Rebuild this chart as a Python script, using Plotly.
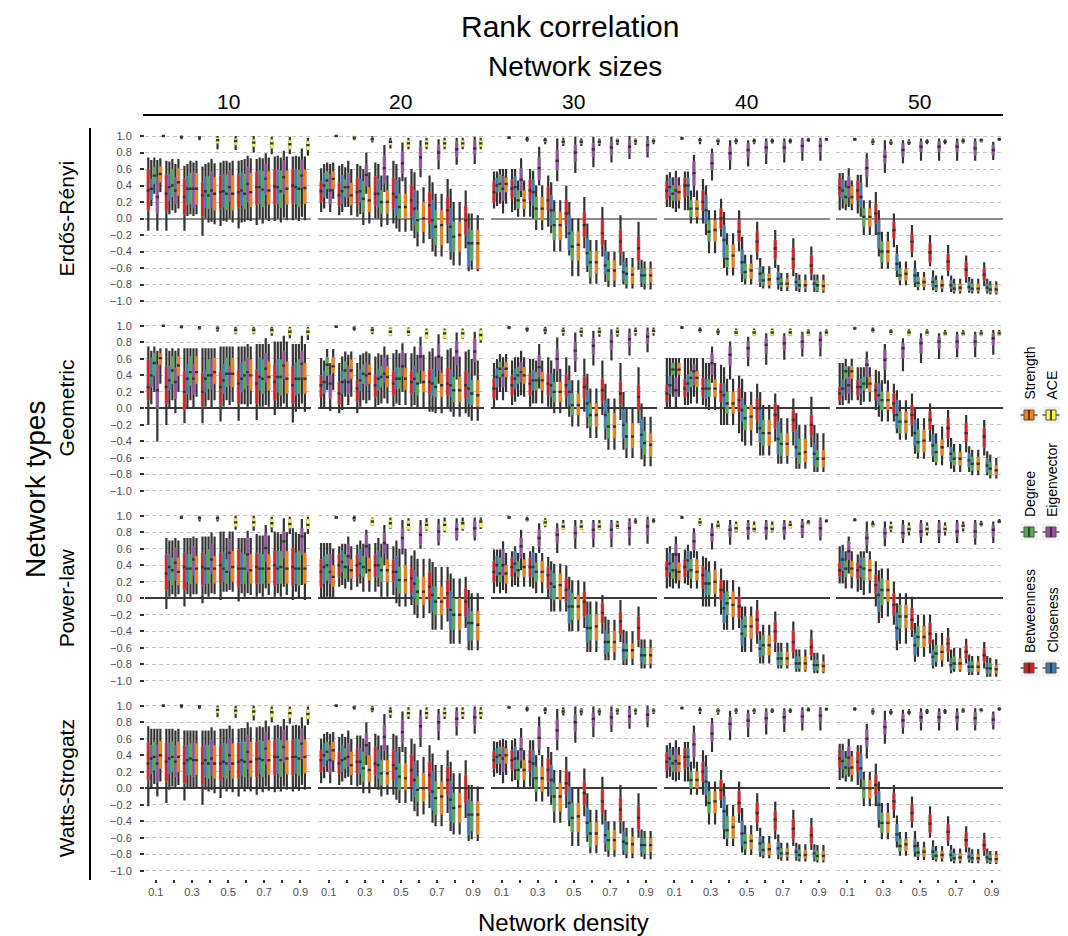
import plotly.graph_objects as go

# ---------------- data ----------------
DENSITY = [0.1, 0.2, 0.3, 0.4, 0.5, 0.6, 0.7, 0.8, 0.9]
DENSITY_LABELS = ["0.1", "", "0.3", "", "0.5", "", "0.7", "", "0.9"]
SIZES = ["10", "20", "30", "40", "50"]
TYPES = ["Erdős-Rényi", "Geometric", "Power-law", "Watts-Strogatz"]
MEASURES = ["Betweenness", "Closeness", "Degree", "Eigenvector", "Strength", "ACE"]
Y_TICKS = [-1.0, -0.8, -0.6, -0.4, -0.2, 0.0, 0.2, 0.4, 0.6, 0.8, 1.0]
Y_LABELS = ["\u22121.0", "\u22120.8", "\u22120.6", "\u22120.4", "\u22120.2", "0.0",
            "0.2", "0.4", "0.6", "0.8", "1.0"]

# each box: (lower whisker, q1, median, q3, upper whisker) in hundredths
# order inside a panel: Betweenness, Closeness, Degree, Eigenvector, Strength, ACE
ER_10 = [
    [(-15,10,34,59,74),(-15,9,30,53,70),(-15,5,26,48,64),(-21,2,28,44,63),(-9,12,32,52,68),(-12,13,32,53,70),(-8,17,38,56,72),(-3,17,39,59,75),(-2,18,40,60,75)],
    [(15,23,36,48,71),(5,22,38,53,69),(3,17,36,51,66),(0,13,33,50,66),(-3,14,33,53,70),(-5,16,34,55,71),(0,18,38,58,74),(0,18,38,59,76),(0,18,38,60,76)],
    [(30,42,52,62,74),(10,26,40,60,72),(5,18,36,55,70),(-5,12,28,51,68),(-4,11,30,53,70),(-4,12,30,54,72),(-6,14,35,57,73),(-5,13,33,58,74),(-3,14,36,59,75)],
    [(-15,7,26,50,71),(7,18,34,50,66),(3,14,36,56,68),(-4,13,34,56,72),(0,21,38,58,68),(-2,20,42,62,76),(0,29,48,66,79),(1,30,50,70,82),(2,38,52,71,85)],
    [(32,44,54,63,73),(12,28,44,61,72),(5,17,36,55,70),(-7,10,30,50,67),(-5,10,30,52,70),(-3,14,32,55,73),(-3,17,34,57,74),(-2,17,36,58,75),(-2,18,37,59,75)],
    [(99,100,100,100,100),(96,98,99,100,100),(95,97,98,99,100),(84,91,95,98,100),(83,89,94,97,100),(80,87,92,96,100),(78,85,91,96,99),(78,84,90,95,99),(76,83,89,94,98)],
]
ER_20 = [
    [(8,20,33,45,61),(4,16,28,43,64),(2,18,32,49,66),(0,16,30,51,68),(-6,12,30,49,70),(-15,2,22,40,60),(-25,-6,16,32,52),(-30,-8,10,26,48),(-36,-20,-2,16,34)],
    [(12,26,40,55,66),(8,18,33,52,66),(5,20,33,48,64),(0,14,30,48,66),(-12,4,26,47,66),(-24,-8,12,34,56),(-40,-24,-2,22,44),(-50,-40,-10,12,36),(-64,-58,-30,-12,6)],
    [(24,36,46,57,68),(14,26,38,47,62),(-8,8,24,45,60),(-10,6,20,34,52),(-16,0,14,30,50),(-34,-16,-2,10,34),(-46,-32,-10,10,30),(-57,-40,-22,-4,20),(-62,-51,-30,-14,6)],
    [(8,18,34,53,66),(14,26,38,55,70),(30,40,53,66,80),(32,43,61,76,89),(45,55,67,81,92),(50,61,74,87,95),(60,71,80,89,96),(65,75,84,93,98),(66,77,85,95,99)],
    [(24,36,48,57,68),(4,16,28,43,60),(-6,8,22,38,56),(-8,6,20,34,52),(-16,0,14,30,50),(-30,-16,0,20,38),(-46,-32,-8,10,30),(-57,-40,-20,-4,20),(-64,-61,-30,-14,4)],
    [(99,100,100,100,100),(95,97,98,100,100),(92,94,96,98,100),(85,89,93,95,98),(84,87,91,95,98),(84,87,91,95,98),(84,87,91,95,98),(84,87,91,95,98),(84,87,91,95,98)],
]
ER_30 = [
    [(12,20,32,45,57),(8,24,36,47,60),(2,22,34,47,60),(-10,10,22,38,52),(-24,-8,6,22,40),(-36,-22,-8,8,26),(-46,-32,-18,-2,14),(-57,-43,-28,-14,4),(-62,-51,-36,-22,-4)],
    [(15,32,40,49,57),(10,26,38,51,60),(0,16,32,47,58),(-18,-8,10,28,44),(-45,-38,-18,4,20),(-65,-57,-42,-24,-6),(-77,-67,-57,-40,-26),(-80,-75,-65,-53,-40),(-83,-77,-69,-61,-50)],
    [(18,32,42,53,60),(2,12,22,34,46),(-14,-2,12,26,40),(-40,-26,-8,8,22),(-70,-51,-34,-16,0),(-79,-71,-53,-40,-26),(-83,-75,-63,-51,-40),(-85,-79,-67,-59,-48),(-86,-79,-69,-61,-52)],
    [(6,22,36,51,60),(26,34,47,61,73),(40,47,61,74,87),(45,59,70,83,97),(55,69,80,89,99),(62,75,84,91,99),(68,77,86,93,99),(72,79,87,95,100),(74,81,89,95,100)],
    [(18,32,42,49,60),(2,12,22,34,46),(-14,-2,12,26,40),(-40,-26,-8,8,22),(-70,-51,-32,-16,0),(-79,-67,-53,-40,-26),(-83,-75,-63,-51,-40),(-85,-79,-68,-59,-48),(-86,-77,-69,-61,-52)],
    [(97,98,98,99,100),(93,95,96,97,99),(90,93,95,96,98),(88,91,93,95,98),(88,91,93,95,97),(88,91,93,95,97),(89,92,94,96,97),(89,92,94,96,97),(90,92,94,96,97)],
]
ER_40 = [
    [(14,24,34,45,53),(10,26,40,49,57),(-6,10,20,34,48),(-22,-12,0,12,24),(-40,-28,-16,-2,10),(-50,-40,-28,-16,-4),(-60,-49,-36,-26,-14),(-70,-61,-49,-36,-24),(-75,-67,-57,-45,-34)],
    [(14,28,38,49,56),(10,28,40,49,57),(-20,-6,10,28,40),(-60,-47,-26,-8,8),(-77,-67,-53,-38,-22),(-83,-77,-67,-59,-48),(-86,-79,-73,-65,-56),(-88,-83,-77,-73,-66),(-89,-83,-79,-75,-68)],
    [(12,22,30,40,50),(-6,2,12,22,34),(-42,-28,-16,-2,10),(-69,-59,-49,-32,-18),(-80,-73,-65,-55,-44),(-85,-81,-75,-67,-58),(-88,-83,-79,-73,-66),(-89,-85,-81,-75,-68),(-89,-87,-81,-75,-68)],
    [(8,22,34,49,58),(26,40,55,69,77),(46,59,67,79,85),(59,71,79,87,95),(63,75,83,91,95),(66,79,86,93,97),(68,79,86,93,97),(70,81,88,95,98),(70,81,88,95,98)],
    [(12,22,32,40,50),(-6,2,12,22,34),(-42,-28,-14,-2,10),(-69,-59,-45,-32,-18),(-80,-73,-63,-55,-44),(-85,-81,-74,-67,-58),(-88,-83,-79,-73,-66),(-89,-85,-81,-75,-68),(-90,-87,-82,-75,-68)],
    [(96,97,97,98,99),(90,93,95,96,98),(89,92,94,96,97),(90,92,94,95,97),(90,92,94,95,97),(91,93,94,95,97),(91,93,94,95,97),(93,94,95,96,98),(94,95,96,96,97)],
]
ER_50 = [
    [(10,28,37,49,55),(6,22,34,45,53),(-20,-6,6,18,32),(-35,-24,-14,-4,6),(-47,-40,-28,-18,-8),(-58,-53,-41,-30,-20),(-70,-63,-52,-43,-32),(-78,-71,-62,-53,-45),(-82,-75,-68,-61,-53)],
    [(12,24,34,47,55),(2,14,26,43,53),(-46,-36,-18,-2,10),(-71,-63,-55,-43,-32),(-83,-77,-69,-61,-51),(-87,-83,-77,-71,-63),(-89,-85,-81,-75,-69),(-90,-87,-83,-77,-71),(-91,-88,-84,-79,-73)],
    [(10,18,26,37,46),(-20,-10,2,12,22),(-61,-53,-40,-28,-16),(-81,-75,-69,-61,-52),(-87,-83,-78,-71,-65),(-89,-87,-82,-75,-69),(-91,-88,-85,-79,-73),(-91,-88,-85,-79,-73),(-92,-90,-86,-81,-76)],
    [(14,26,38,51,61),(38,51,61,72,79),(55,67,75,83,95),(67,75,83,91,95),(70,81,87,93,97),(70,81,87,93,97),(70,81,87,93,97),(70,77,85,93,97),(71,77,83,89,93)],
    [(10,18,26,39,46),(-20,-10,2,12,22),(-61,-53,-40,-28,-16),(-81,-75,-67,-61,-52),(-87,-83,-77,-71,-65),(-89,-85,-81,-75,-69),(-91,-88,-84,-79,-73),(-91,-88,-85,-79,-73),(-92,-90,-86,-81,-76)],
    [(94,95,96,97,98),(89,91,93,95,97),(89,91,92,94,96),(89,91,92,94,96),(90,92,93,94,96),(90,92,93,94,96),(91,92,94,95,97),(92,93,95,96,97),(94,95,96,97,98)],
]
GEO_10 = [
    [(-20,10,26,59,75),(-20,6,26,51,73),(-18,-2,20,45,73),(-18,2,20,43,73),(-16,4,26,45,75),(-15,6,30,47,75),(-14,6,30,47,78),(-8,10,32,53,81),(-17,6,28,51,78)],
    [(5,26,40,61,70),(0,22,34,51,70),(0,18,36,53,73),(2,20,36,47,73),(2,18,34,53,75),(5,20,36,55,75),(2,22,38,61,78),(0,20,38,59,81),(-4,16,36,55,78)],
    [(20,40,55,67,75),(10,30,46,63,73),(10,28,44,63,73),(10,24,40,59,73),(10,26,42,61,75),(5,24,40,57,75),(2,18,36,59,78),(2,16,38,59,81),(0,18,36,59,78)],
    [(-40,0,22,53,70),(-6,12,32,49,70),(0,18,36,53,73),(0,24,40,59,73),(4,28,42,51,75),(2,28,44,61,78),(4,32,48,67,85),(6,36,52,69,88),(6,38,54,69,88)],
    [(30,53,61,67,73),(20,40,52,63,73),(14,30,44,63,73),(10,30,44,61,73),(8,26,42,61,75),(5,22,40,59,75),(2,22,38,57,78),(0,18,36,57,81),(-4,18,36,55,78)],
    [(100,100,100,100,100),(97,98,99,100,100),(95,96,98,99,100),(93,95,97,99,100),(90,91,95,97,99),(90,91,95,97,99),(88,91,95,97,99),(85,89,93,97,99),(83,89,93,97,99)],
]
GEO_20 = [
    [(0,14,28,40,61),(-6,5,18,32,55),(-6,8,24,34,55),(0,14,28,41,63),(2,16,30,45,67),(2,18,32,45,67),(-4,18,32,47,69),(0,16,30,49,71),(-6,12,28,45,69)],
    [(0,18,32,45,58),(-2,18,32,45,63),(2,22,34,47,65),(4,22,36,47,67),(6,24,36,49,71),(4,20,36,51,75),(-4,16,30,47,73),(-4,14,28,47,73),(-10,6,24,43,71)],
    [(22,40,53,62,72),(14,36,46,57,69),(10,30,42,53,67),(6,26,38,51,65),(4,24,36,49,67),(0,16,30,43,65),(-6,14,26,38,63),(-10,8,22,38,63),(-15,4,18,34,60)],
    [(-3,12,30,40,55),(4,18,32,51,65),(6,28,40,55,69),(12,32,42,61,75),(20,40,51,69,79),(30,47,63,75,87),(30,47,63,77,90),(35,53,69,81,92),(40,57,69,84,93)],
    [(22,43,51,62,72),(14,36,46,59,69),(10,30,42,53,67),(6,26,38,51,65),(4,23,36,49,67),(0,20,32,45,65),(-6,14,28,43,63),(-10,8,22,38,63),(-15,2,16,34,58)],
    [(98,99,99,100,100),(94,96,97,99,100),(90,92,95,97,99),(88,88,93,97,98),(88,89,93,97,98),(85,85,91,95,97),(84,85,91,95,97),(84,85,91,95,97),(80,83,89,95,97)],
]
GEO_30 = [
    [(0,12,24,36,55),(4,16,28,40,58),(2,16,30,42,60),(2,16,30,42,62),(0,14,28,40,62),(-4,12,26,38,60),(-8,8,22,36,58),(-14,4,18,32,55),(-18,-2,14,28,50)],
    [(10,26,38,48,60),(8,24,36,48,62),(6,22,34,46,60),(0,14,28,42,58),(-10,4,20,34,52),(-24,-10,6,22,42),(-38,-24,-8,10,30),(-50,-36,-20,-2,20),(-62,-48,-32,-14,6)],
    [(20,38,48,56,66),(14,30,40,50,62),(6,22,34,44,58),(-6,8,20,32,48),(-22,-8,4,18,34),(-36,-22,-8,6,24),(-50,-36,-22,-6,12),(-60,-48,-34,-18,0),(-70,-56,-42,-28,-10)],
    [(10,26,40,50,62),(16,32,44,56,70),(24,38,50,64,78),(32,46,60,72,86),(44,58,70,80,92),(52,66,76,85,94),(58,72,81,89,96),(64,76,84,91,97),(68,79,87,93,98)],
    [(20,38,48,56,66),(14,30,40,50,62),(6,22,34,44,58),(-6,8,20,32,48),(-22,-8,4,18,34),(-36,-22,-8,6,24),(-50,-36,-22,-6,12),(-60,-48,-34,-18,0),(-70,-58,-44,-30,-10)],
    [(96,97,98,99,100),(93,95,96,98,99),(90,93,95,97,99),(88,91,94,96,98),(87,90,93,96,98),(87,90,93,96,98),(87,90,93,96,98),(88,91,94,96,98),(88,91,94,96,98)],
]
GEO_40 = [
    [(0,8,18,28,61),(4,14,24,35,61),(4,14,24,37,61),(-20,8,20,30,53),(-30,-4,10,24,40),(-30,-14,0,12,30),(-40,-24,-8,6,18),(-45,-28,-14,-2,12),(-47,-33,-20,-8,14)],
    [(0,18,28,39,61),(4,20,30,41,61),(2,12,24,35,55),(-20,2,16,30,50),(-40,-16,-2,12,36),(-57,-41,-24,-2,20),(-67,-55,-37,-16,4),(-73,-59,-47,-26,-6),(-77,-69,-55,-43,-20)],
    [(14,41,47,55,61),(6,26,37,45,61),(-2,14,24,35,55),(-20,-6,6,20,36),(-45,-26,-12,4,20),(-57,-45,-30,-14,4),(-67,-57,-43,-30,-12),(-73,-67,-55,-37,-20),(-77,-71,-61,-51,-30)],
    [(0,14,22,37,61),(14,28,45,53,61),(31,41,55,67,75),(35,53,65,75,81),(51,63,73,81,87),(53,67,77,85,91),(59,71,79,87,91),(63,73,81,89,93),(63,75,83,89,93)],
    [(14,41,47,55,61),(6,26,37,45,61),(-2,14,24,35,55),(-20,-6,6,20,36),(-45,-26,-10,4,20),(-57,-45,-30,-14,4),(-67,-57,-43,-30,-12),(-73,-65,-53,-37,-20),(-77,-71,-61,-51,-30)],
    [(97,98,98,99,100),(92,93,95,96,98),(89,91,93,95,97),(88,88,92,95,97),(88,88,92,95,97),(88,88,92,95,97),(88,88,92,95,97),(88,88,92,94,96),(88,88,92,94,96)],
]
GEO_50 = [
    [(4,10,18,26,55),(10,16,26,34,50),(-2,10,22,30,47),(-16,-6,6,18,30),(-34,-20,-8,4,18),(-40,-26,-14,-4,6),(-47,-36,-24,-12,-2),(-53,-40,-30,-18,-8),(-57,-47,-34,-24,-14)],
    [(4,16,24,34,55),(4,18,26,36,50),(-10,4,16,30,45),(-30,-24,-8,10,22),(-55,-45,-30,-14,0),(-65,-57,-45,-32,-20),(-73,-65,-55,-47,-36),(-77,-71,-63,-55,-46),(-81,-77,-69,-61,-52)],
    [(10,36,45,51,60),(8,22,30,38,50),(-16,-2,10,20,34),(-38,-30,-16,-4,10),(-61,-53,-41,-26,-12),(-69,-65,-53,-43,-30),(-77,-69,-61,-53,-43),(-81,-75,-67,-59,-50),(-85,-81,-73,-65,-56)],
    [(6,18,28,38,51),(24,38,53,59,69),(30,47,59,71,78),(45,61,73,79,85),(55,67,79,85,91),(60,73,81,87,91),(62,73,81,89,93),(62,75,81,89,93),(65,77,85,91,95)],
    [(10,36,45,51,60),(8,20,30,38,50),(-16,-2,10,20,34),(-38,-30,-16,-4,10),(-61,-53,-39,-26,-12),(-69,-57,-47,-38,-22),(-77,-69,-61,-53,-43),(-81,-75,-67,-59,-50),(-85,-81,-75,-69,-60)],
    [(96,97,97,98,99),(92,93,95,96,98),(89,90,93,94,96),(88,88,92,94,96),(88,88,92,94,96),(88,88,91,93,95),(88,88,91,93,95),(88,88,91,93,95),(88,88,91,93,95)],
]
PL_10 = [
    [None,(-13,10,30,53,73),(-10,10,38,55,73),(-6,16,38,55,75),(-2,18,40,55,81),(-4,14,36,59,73),(2,18,38,55,78),(2,16,40,57,81),(-2,16,38,61,85)],
    [None,(2,22,38,53,70),(5,20,36,53,73),(5,18,36,53,75),(8,20,36,55,81),(6,18,36,55,73),(6,18,36,55,76),(6,18,36,57,80),(8,18,36,55,80)],
    [None,(5,16,34,49,70),(2,18,36,53,73),(2,18,36,59,75),(8,18,32,47,73),(2,18,36,53,73),(2,18,36,53,76),(2,18,38,57,78),(0,16,36,57,78)],
    [None,(2,22,43,61,73),(5,28,47,63,75),(6,30,47,65,80),(10,34,55,71,81),(6,32,53,73,82),(12,45,61,79,89),(14,49,69,81,97),(16,53,75,85,96)],
    [None,(5,16,32,49,70),(5,18,36,51,73),(5,18,36,51,75),(8,20,38,57,81),(4,18,34,53,73),(4,18,36,53,76),(4,18,36,57,80),(-2,18,36,55,80)],
    [None,(96,97,98,99,100),(93,95,97,99,100),(93,95,97,99,100),(83,87,92,97,100),(82,87,92,97,100),(80,86,91,96,99),(78,85,90,96,99),(78,84,89,96,99)],
]
PL_20 = [
    [(0,14,32,47,67),(14,26,40,53,63),(14,26,40,53,65),(8,26,40,53,67),(4,20,32,47,63),(-8,6,24,36,52),(-18,-2,14,32,48),(-28,-12,6,22,38),(-36,-22,-4,12,26)],
    [(0,18,38,51,67),(16,32,44,57,66),(18,30,42,59,70),(14,26,40,57,73),(-6,14,32,51,70),(-20,0,18,34,58),(-38,-16,4,14,44),(-55,-38,-14,8,30),(-63,-51,-30,-12,10)],
    [(2,22,40,53,67),(12,24,38,53,66),(8,26,38,51,66),(2,20,34,49,66),(-10,6,22,38,60),(-24,-8,8,26,48),(-38,-20,-4,14,38),(-55,-38,-20,0,24),(-63,-51,-30,-16,6)],
    [(0,18,32,53,67),(20,40,51,65,75),(30,51,63,77,83),(40,55,67,79,89),(53,61,73,85,95),(60,65,77,87,95),(64,69,81,89,96),(70,73,84,91,97),(70,75,85,93,98)],
    [(0,14,26,40,60),(10,24,34,47,63),(8,22,34,49,66),(2,20,34,47,66),(-10,6,22,40,60),(-24,-8,8,26,48),(-38,-20,-4,14,38),(-55,-38,-20,0,24),(-63,-51,-32,-16,6)],
    [(97,98,98,99,100),(93,95,97,98,100),(88,88,93,97,98),(84,85,91,95,98),(82,83,89,94,97),(82,83,89,92,97),(80,82,89,93,98),(82,84,91,93,98),(84,86,93,95,98)],
]
PL_30 = [
    [(6,20,32,45,59),(14,26,38,49,57),(14,26,38,49,57),(0,12,28,38,50),(-16,-4,10,24,40),(-36,-22,-4,8,20),(-43,-30,-18,-6,4),(-53,-43,-28,-16,-2),(-59,-51,-36,-22,-10)],
    [(14,28,40,51,59),(16,32,42,57,63),(12,26,38,55,63),(-16,0,18,34,45),(-40,-30,-10,10,26),(-65,-53,-36,-20,-4),(-75,-67,-53,-40,-22),(-81,-75,-63,-55,-38),(-85,-77,-69,-61,-50)],
    [(6,20,30,49,59),(14,26,34,45,55),(6,20,32,43,55),(-16,-2,14,30,42),(-40,-26,-10,6,22),(-65,-51,-36,-20,-4),(-75,-65,-53,-43,-26),(-81,-73,-63,-55,-40),(-85,-79,-69,-61,-50)],
    [(10,28,40,59,69),(34,49,63,73,83),(55,63,73,83,91),(55,67,77,85,91),(60,73,79,87,95),(62,73,83,91,95),(62,73,83,91,95),(64,75,85,93,97),(66,77,87,95,99)],
    [(6,18,30,40,55),(14,26,38,47,55),(6,20,32,45,55),(-16,-2,16,30,42),(-40,-26,-10,4,22),(-65,-51,-34,-20,-4),(-75,-65,-53,-40,-26),(-81,-73,-63,-55,-40),(-85,-79,-69,-61,-50)],
    [(97,98,98,99,100),(93,94,96,97,99),(86,88,92,95,97),(83,83,87,91,95),(83,83,87,91,95),(83,83,87,91,95),(84,85,88,91,94),(90,91,93,95,97),(91,92,94,95,97)],
]
PL_40 = [
    [(12,26,36,45,61),(18,26,38,47,59),(-10,12,28,38,51),(-20,-2,10,22,36),(-36,-24,-10,2,14),(-55,-43,-26,-14,-2),(-65,-53,-40,-28,-16),(-73,-65,-53,-40,-28),(-75,-69,-59,-49,-38)],
    [(14,32,42,55,63),(16,34,46,57,65),(-10,4,18,34,49),(-38,-30,-12,6,22),(-65,-57,-43,-26,-10),(-79,-71,-61,-51,-40),(-85,-81,-73,-65,-54),(-89,-85,-79,-71,-62),(-91,-87,-81,-75,-66)],
    [(12,24,34,43,55),(12,24,34,47,57),(-10,4,18,32,45),(-38,-20,-6,8,22),(-65,-47,-34,-22,-10),(-79,-69,-57,-45,-32),(-85,-81,-73,-65,-54),(-89,-85,-79,-71,-62),(-91,-87,-81,-75,-66)],
    [(18,36,53,65,75),(49,59,69,79,85),(59,69,77,85,91),(65,75,83,89,95),(71,77,85,91,95),(71,77,85,91,95),(71,77,85,91,95),(73,77,87,93,96),(70,75,85,95,98)],
    [(12,22,32,43,55),(12,22,32,47,57),(-10,6,20,34,45),(-38,-22,-8,8,22),(-65,-49,-34,-22,-10),(-79,-69,-57,-45,-32),(-85,-81,-73,-65,-54),(-89,-87,-79,-71,-62),(-91,-89,-82,-77,-68)],
    [(97,98,98,99,100),(88,89,92,95,97),(84,84,88,91,94),(80,81,85,90,93),(80,81,84,89,93),(80,81,84,89,93),(85,85,89,91,94),(89,89,92,93,95),(92,93,94,94,95)],
]
PL_50 = [
    [(18,26,34,43,63),(8,24,34,43,53),(-10,6,16,28,45),(-32,-20,-8,6,20),(-47,-38,-26,-12,2),(-67,-55,-43,-30,-20),(-77,-65,-55,-47,-36),(-79,-73,-65,-57,-49),(-85,-77,-69,-61,-53)],
    [(18,34,47,57,65),(10,26,38,49,57),(-30,-16,4,20,34),(-63,-51,-36,-18,-6),(-77,-69,-57,-43,-30),(-85,-81,-71,-63,-50),(-91,-87,-81,-73,-62),(-93,-89,-83,-77,-68),(-95,-91,-85,-79,-70)],
    [(12,26,36,45,57),(4,22,36,49,57),(-24,-8,10,24,36),(-55,-36,-22,-8,6),(-71,-59,-47,-34,-20),(-83,-77,-67,-57,-42),(-89,-85,-79,-71,-60),(-93,-89,-83,-77,-70),(-95,-91,-85,-79,-72)],
    [(30,47,57,69,75),(55,65,73,81,93),(63,73,79,85,93),(67,73,79,89,95),(67,75,81,91,95),(67,75,81,91,95),(67,75,81,91,95),(65,73,81,91,95),(67,75,83,89,93)],
    [(12,26,36,45,57),(6,22,34,47,57),(-22,-4,10,22,36),(-55,-36,-22,-8,6),(-71,-59,-47,-34,-20),(-83,-75,-65,-57,-42),(-89,-87,-79,-73,-60),(-93,-89,-83,-77,-70),(-95,-91,-86,-81,-74)],
    [(94,95,95,96,97),(86,87,90,91,94),(80,83,86,90,93),(76,81,84,88,92),(76,80,84,88,92),(76,81,84,88,92),(81,85,88,90,93),(87,88,90,92,94),(91,92,93,94,96)],
]
WS_10 = [
    [(-22,10,30,55,75),(-18,8,32,55,72),(-15,6,30,52,70),(-20,4,30,50,70),(-12,10,30,52,72),(-10,12,32,55,72),(-8,14,35,56,74),(-5,16,38,58,76),(-4,16,38,58,76)],
    [(0,18,36,52,72),(-2,18,36,54,72),(0,16,34,52,70),(-2,14,34,52,70),(0,14,32,54,72),(0,16,34,56,73),(0,18,36,58,75),(0,18,38,60,77),(0,18,38,60,77)],
    [(5,22,38,56,72),(2,20,38,56,72),(0,16,36,54,70),(-4,12,30,52,70),(-4,12,30,54,72),(-4,14,32,56,73),(-5,14,34,57,74),(-4,14,34,58,75),(-3,15,36,59,76)],
    [(-10,8,30,52,72),(0,14,32,52,70),(0,14,34,54,70),(-2,16,36,58,74),(0,22,40,60,76),(0,24,44,64,80),(2,30,48,68,82),(2,32,50,70,84),(4,36,54,72,86)],
    [(8,24,40,57,72),(4,20,38,56,72),(0,16,34,54,70),(-6,12,30,52,70),(-5,12,30,54,72),(-4,14,32,56,74),(-3,16,34,58,75),(-2,17,36,58,76),(-2,18,38,59,76)],
    [(99,100,100,100,100),(97,99,100,100,100),(96,98,99,100,100),(86,91,95,98,100),(85,90,94,97,100),(82,88,93,97,100),(80,86,92,96,99),(78,85,91,96,99),(77,84,90,95,99)],
]
WS_20 = [
    [(6,20,34,46,60),(4,18,30,44,62),(2,18,32,48,64),(0,16,30,50,66),(-8,10,28,46,66),(-16,2,22,40,60),(-24,-4,16,32,52),(-30,-8,10,26,46),(-36,-18,0,16,34)],
    [(12,26,40,54,66),(8,20,34,52,66),(4,18,32,48,64),(-2,12,28,46,64),(-14,2,24,44,64),(-28,-10,10,32,54),(-42,-26,-4,20,42),(-52,-40,-14,8,32),(-64,-56,-32,-14,4)],
    [(20,34,44,56,68),(12,24,36,48,62),(-6,8,24,44,60),(-10,4,18,34,52),(-18,-2,14,30,50),(-34,-16,-2,14,34),(-46,-32,-12,8,28),(-56,-42,-24,-6,18),(-62,-52,-32,-16,4)],
    [(6,18,34,52,66),(14,26,38,54,70),(28,40,52,66,80),(34,46,62,76,90),(44,56,68,82,93),(50,62,75,87,95),(58,70,80,89,96),(64,75,84,93,98),(66,77,86,95,99)],
    [(20,34,46,56,68),(4,16,28,44,60),(-6,8,22,40,56),(-8,4,18,34,52),(-18,-2,12,30,50),(-32,-16,0,18,38),(-46,-32,-10,8,28),(-56,-42,-22,-6,18),(-64,-56,-32,-16,2)],
    [(99,100,100,100,100),(95,97,98,100,100),(92,94,96,98,100),(85,89,93,95,98),(84,87,91,95,98),(84,87,91,95,98),(84,87,91,95,98),(84,87,91,95,98),(84,87,91,95,98)],
]
WS_30 = [
    [(14,24,34,45,57),(8,22,34,46,58),(2,20,32,46,58),(-10,8,22,36,50),(-24,-8,6,22,38),(-34,-20,-6,8,24),(-44,-30,-16,-2,14),(-55,-40,-26,-12,4),(-60,-50,-36,-22,-6)],
    [(18,30,38,48,56),(10,24,36,50,60),(0,14,30,46,58),(-20,-8,10,28,44),(-46,-38,-18,2,20),(-65,-57,-42,-24,-6),(-77,-67,-57,-40,-26),(-81,-75,-65,-53,-40),(-83,-77,-69,-61,-50)],
    [(16,30,40,50,58),(0,10,22,34,46),(-16,-4,12,26,40),(-42,-28,-10,6,22),(-70,-53,-36,-18,0),(-79,-71,-55,-42,-26),(-83,-75,-63,-51,-40),(-85,-79,-67,-59,-48),(-86,-79,-69,-61,-52)],
    [(6,20,36,50,60),(24,34,47,61,73),(40,48,61,74,87),(46,59,70,83,96),(55,69,80,89,99),(62,75,84,91,99),(68,77,86,93,99),(72,79,87,95,100),(74,81,89,95,100)],
    [(16,30,40,48,58),(0,10,22,34,46),(-16,-4,12,26,40),(-42,-28,-10,6,22),(-70,-53,-34,-18,0),(-79,-69,-55,-42,-26),(-83,-75,-63,-51,-40),(-85,-79,-68,-59,-48),(-86,-77,-69,-61,-52)],
    [(97,98,98,99,100),(93,95,96,97,99),(90,93,95,96,98),(88,91,93,95,98),(88,91,93,95,97),(88,91,93,95,97),(89,92,94,96,97),(89,92,94,96,97),(90,92,94,96,97)],
]
WS_40 = [
    [(12,22,32,43,52),(8,24,38,48,56),(-8,8,20,32,46),(-24,-14,-2,10,22),(-42,-30,-18,-4,8),(-52,-42,-30,-18,-6),(-62,-51,-38,-28,-16),(-70,-61,-49,-38,-26),(-75,-67,-57,-47,-36)],
    [(14,26,36,47,55),(8,26,38,48,56),(-22,-8,8,26,40),(-62,-49,-28,-10,6),(-78,-69,-55,-40,-24),(-83,-77,-67,-59,-48),(-86,-80,-73,-65,-56),(-88,-83,-77,-73,-66),(-89,-84,-79,-75,-68)],
    [(10,20,30,40,50),(-8,0,10,20,32),(-44,-30,-18,-4,8),(-70,-61,-51,-34,-20),(-81,-74,-66,-56,-45),(-85,-81,-75,-67,-58),(-88,-83,-79,-73,-66),(-89,-85,-81,-75,-68),(-90,-87,-82,-76,-69)],
    [(8,20,33,48,58),(24,38,53,67,76),(44,57,66,78,85),(58,70,78,86,94),(62,74,82,90,95),(65,78,85,92,97),(68,79,86,93,97),(70,80,87,94,98),(70,81,88,95,98)],
    [(10,20,30,40,50),(-8,0,10,20,32),(-44,-30,-16,-4,8),(-70,-61,-47,-34,-20),(-81,-74,-64,-56,-45),(-85,-81,-74,-67,-58),(-88,-83,-79,-73,-66),(-89,-85,-81,-75,-68),(-90,-87,-82,-76,-69)],
    [(96,97,97,98,99),(90,93,95,96,98),(89,92,94,96,97),(90,92,94,95,97),(90,92,94,95,97),(91,93,94,95,97),(91,93,94,95,97),(93,94,95,96,98),(94,95,96,96,97)],
]
WS_50 = [
    [(10,26,36,47,54),(4,20,32,44,52),(-22,-8,4,16,30),(-36,-26,-16,-6,4),(-48,-41,-30,-20,-10),(-60,-54,-43,-32,-22),(-70,-63,-53,-44,-34),(-78,-71,-63,-54,-46),(-82,-76,-69,-62,-54)],
    [(12,24,33,46,54),(0,12,24,42,52),(-48,-38,-20,-4,8),(-72,-64,-56,-44,-33),(-83,-77,-70,-62,-52),(-87,-83,-77,-71,-63),(-89,-85,-81,-75,-69),(-90,-87,-83,-78,-72),(-91,-88,-84,-79,-73)],
    [(8,16,25,36,45),(-22,-12,0,10,20),(-62,-54,-42,-30,-18),(-82,-76,-70,-62,-53),(-87,-83,-78,-72,-65),(-89,-86,-82,-76,-70),(-91,-88,-85,-79,-73),(-91,-88,-85,-80,-74),(-92,-90,-86,-81,-76)],
    [(14,26,37,50,60),(36,50,60,71,78),(54,66,74,82,94),(66,74,82,90,95),(70,80,86,92,97),(70,80,86,92,97),(70,80,86,92,97),(70,77,85,92,97),(71,77,83,89,93)],
    [(8,16,25,38,45),(-22,-12,0,10,20),(-62,-54,-42,-30,-18),(-82,-76,-68,-62,-53),(-87,-83,-77,-72,-65),(-89,-85,-81,-76,-70),(-91,-88,-84,-79,-73),(-91,-88,-85,-80,-74),(-92,-90,-86,-81,-76)],
    [(94,95,96,97,98),(89,91,93,95,97),(89,91,92,94,96),(89,91,92,94,96),(90,92,93,94,96),(90,92,93,94,96),(91,92,94,95,97),(92,93,95,96,97),(94,95,96,97,98)],
]

PANELS = [
    [ER_10, ER_20, ER_30, ER_40, ER_50],
    [GEO_10, GEO_20, GEO_30, GEO_40, GEO_50],
    [PL_10, PL_20, PL_30, PL_40, PL_50],
    [WS_10, WS_20, WS_30, WS_40, WS_50],
]

# ---------------- style ----------------
COLORS = ["#E41A1C", "#377EB8", "#4DAF4A", "#984EA3", "#FF7F00", "#FFFF33"]
ZERO_COLORS = ["#8c8c8c", "#3a3a3a", "#3a3a3a", "#3a3a3a"]
FONT = "Liberation Sans, Arial, sans-serif"
OFF = 8  # page body margin of the html page
W, H = 1068 - OFF, 936 - OFF
PANEL_L0, PANEL_PITCH, PANEL_W = 145.0, 172.85, 166.2
PANEL_T0, PANEL_VPITCH, PANEL_H = 127.75, 189.9, 181.5


def px(x):
    """window pixel -> paper fraction"""
    return (x - OFF) / W


def py(y):
    return 1 - (y - OFF) / H


fig = go.Figure()
layout_axes = {}

for r, tname in enumerate(TYPES):
    for c, size in enumerate(SIZES):
        idx = r * 5 + c + 1
        xa = "x" if idx == 1 else f"x{idx}"
        ya = "y" if idx == 1 else f"y{idx}"
        panel = PANELS[r][c]
        for m, mname in enumerate(MEASURES):
            rows = panel[m]
            xs = [d for d, v in zip(DENSITY, rows) if v is not None]
            vals = [v for v in rows if v is not None]
            lo = [v[0] / 100 for v in vals]
            q1 = [v[1] / 100 for v in vals]
            med = [v[2] / 100 for v in vals]
            q3 = [v[3] / 100 for v in vals]
            hi = [v[4] / 100 for v in vals]
            common = dict(x=xs, xaxis=xa, yaxis=ya, orientation="v",
                          offsetgroup=mname, alignmentgroup=f"g{idx}",
                          showlegend=False, hoverinfo="skip", boxpoints=False,
                          whiskerwidth=0)
            # whiskers
            fig.add_trace(go.Box(q1=med, median=med, q3=med, lowerfence=lo, upperfence=hi,
                                 line=dict(color="#333333", width=2.2),
                                 fillcolor="rgba(0,0,0,0)", **common))
            # box body
            fig.add_trace(go.Box(q1=q1, median=med, q3=q3, lowerfence=q1, upperfence=q3,
                                 line=dict(color="rgba(150,150,150,0.55)", width=0.8),
                                 fillcolor=COLORS[m], **common))
            # median bar
            fig.add_trace(go.Box(q1=med, median=med, q3=med, lowerfence=med, upperfence=med,
                                 line=dict(color="#333333", width=2.4),
                                 fillcolor="rgba(0,0,0,0)", **common))

        left = PANEL_L0 + PANEL_PITCH * c
        top = PANEL_T0 + PANEL_VPITCH * r
        bottom_row = (r == len(TYPES) - 1)
        first_col = (c == 0)
        xkey = "xaxis" if idx == 1 else f"xaxis{idx}"
        ykey = "yaxis" if idx == 1 else f"yaxis{idx}"
        layout_axes[xkey] = dict(
            domain=[px(left), px(left + PANEL_W)], anchor=ya,
            range=[0.04, 0.96], showgrid=False, zeroline=False, showline=False,
            tickvals=DENSITY, ticktext=DENSITY_LABELS,
            ticks="outside" if bottom_row else "", ticklen=3, tickwidth=2,
            tickcolor="#333333", showticklabels=bottom_row,
            tickfont=dict(size=11, color="#4d4d4d", family=FONT),
        )
        layout_axes[ykey] = dict(
            domain=[py(top + PANEL_H), py(top)], anchor=xa,
            range=[-1.1, 1.1], tickvals=Y_TICKS, ticktext=Y_LABELS,
            showgrid=True, gridcolor="#c4c4c4", gridwidth=1, griddash="4px,3px",
            zeroline=True, zerolinecolor=ZERO_COLORS[r], zerolinewidth=2,
            showline=False,
            ticks="outside" if first_col else "", ticklen=4, tickwidth=2,
            tickcolor="#333333", showticklabels=first_col, ticklabelstandoff=6,
            tickfont=dict(size=11, color="#4d4d4d", family=FONT),
        )

annotations = []
shapes = []


def label(text, x, y, size, angle=0, xanchor="center", yanchor="middle"):
    annotations.append(dict(text=text, x=px(x), y=py(y), xref="paper", yref="paper",
                            xanchor=xanchor, yanchor=yanchor, showarrow=False,
                            textangle=angle, borderpad=0,
                            font=dict(size=size, color="black", family=FONT)))


label("Rank correlation", 570, 9, 30, yanchor="top")
label("Network sizes", 575, 66, 28)
label("Network density", 563, 922, 24)
label("Network types", 35, 490, 28, angle=-90)

for c, size in enumerate(SIZES):
    cx = PANEL_L0 + PANEL_PITCH * c + PANEL_W / 2
    label(size, cx, 101, 21)
for r, tname in enumerate(TYPES):
    cy = PANEL_T0 + PANEL_VPITCH * r + PANEL_H / 2
    label(tname, 66, cy, 21, angle=-90)

shapes.append(dict(type="line", xref="paper", yref="paper", x0=px(143), x1=px(1003),
                   y0=py(115), y1=py(115), line=dict(color="black", width=2)))
shapes.append(dict(type="line", xref="paper", yref="paper", x0=px(90), x1=px(90),
                   y0=py(128), y1=py(880), line=dict(color="black", width=2)))

# legend (manual, rotated)
LEG_X = [1029, 1051]
LEG_Y = [668, 532, 415]
for m, mname in enumerate(MEASURES):
    col = m % 2
    row = m // 2
    cx, cy = LEG_X[col], LEG_Y[row]
    shapes.append(dict(type="rect", xref="paper", yref="paper",
                       x0=px(cx - 8.5), x1=px(cx + 8.5), y0=py(cy + 8.5), y1=py(cy - 8.5),
                       fillcolor="#f0f0f0", line=dict(width=0)))
    shapes.append(dict(type="line", xref="paper", yref="paper",
                       x0=px(cx - 8.5), x1=px(cx + 8.5), y0=py(cy), y1=py(cy),
                       line=dict(color="#333333", width=1.2)))
    shapes.append(dict(type="rect", xref="paper", yref="paper",
                       x0=px(cx - 5), x1=px(cx + 5), y0=py(cy + 5), y1=py(cy - 5),
                       fillcolor=COLORS[m], line=dict(color="#555555", width=1)))
    shapes.append(dict(type="line", xref="paper", yref="paper",
                       x0=px(cx), x1=px(cx), y0=py(cy + 5), y1=py(cy - 5),
                       line=dict(color="#333333", width=1.8)))
    label(mname, cx + 1, cy - 14, 14, angle=-90, xanchor="center", yanchor="bottom")

fig.update_layout(
    width=W, height=H, margin=dict(l=0, r=0, t=0, b=0),
    paper_bgcolor="white", plot_bgcolor="white",
    boxmode="group", boxgap=0.0, boxgroupgap=0.0,
    showlegend=False, font=dict(family=FONT),
    annotations=annotations, shapes=shapes,
    **layout_axes,
)

fig.write_html("out.html")
